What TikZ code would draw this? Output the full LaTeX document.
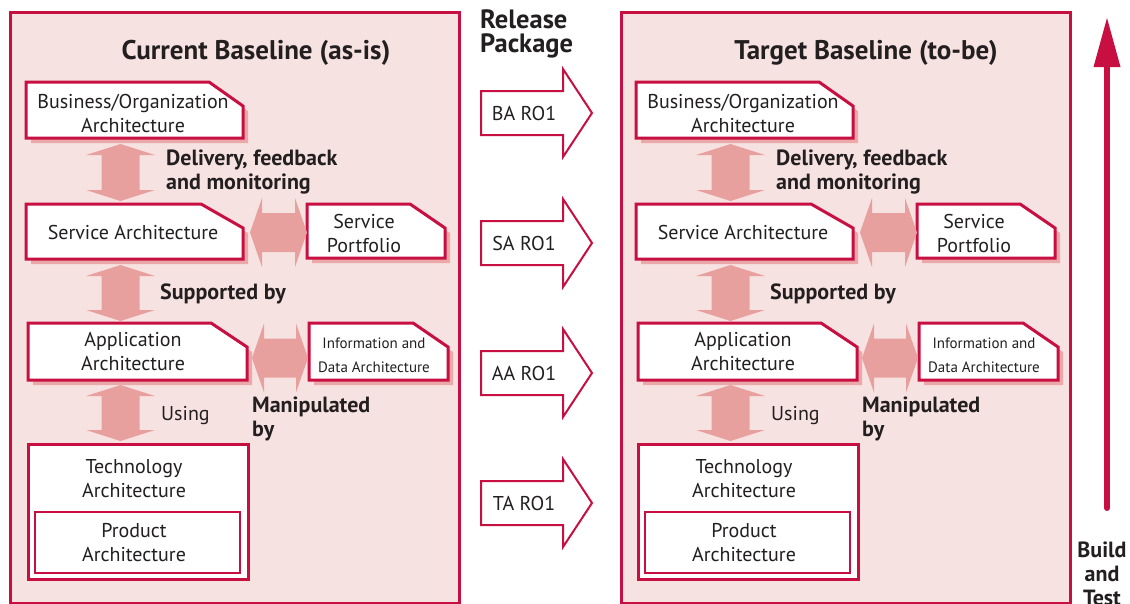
\documentclass[tikz,border=0pt]{standalone}
\usepackage{fontspec}
\setmainfont{PT Sans}
\usetikzlibrary{calc}
\definecolor{crim}{RGB}{200,15,65}
\definecolor{bgpink}{RGB}{247,226,226}
\definecolor{arrpink}{RGB}{232,160,159}
\definecolor{shad}{RGB}{235,168,168}
\definecolor{txt}{RGB}{35,31,32}

\newcommand\chout[2]{%
 \fill[shad] ([shift={(5pt-#2pt,-5pt)}]#1.north east) -- ([shift={(5pt,-29pt)}]#1.north east) -- ([shift={(5pt,-5pt)}]#1.south east) -- ([shift={(5pt,-5pt)}]#1.south west) -- ([shift={(5pt,-5pt)}]#1.north west) -- cycle;
 \draw[boxline] (#1.north west) -- ([xshift=-#2pt]#1.north east) -- ([yshift=-24pt]#1.north east) -- (#1.south east) -- (#1.south west) -- cycle;
}
\newcommand\vda[2]{%
 \fill[arrpink] let \p1=(#1), \p2=(#2) in (\x1,\y1) -- (\x1+34.5pt,\y1-11pt) -- (\x1+19pt,\y1-11pt) -- (\x1+19pt,\y2+11pt) -- (\x1+34.5pt,\y2+11pt) -- (\x1,\y2) -- (\x1-34.5pt,\y2+11pt) -- (\x1-19pt,\y2+11pt) -- (\x1-19pt,\y1-11pt) -- (\x1-34.5pt,\y1-11pt) -- cycle;
}
\newcommand\hda[2]{%
 \fill[arrpink] let \p1=(#1), \p2=(#2) in (\x1,\y1) -- (\x1+12pt,\y1+34.5pt) -- (\x1+12pt,\y1+19.5pt) -- (\x2-12pt,\y1+19.5pt) -- (\x2-12pt,\y1+34.5pt) -- (\x2,\y1) -- (\x2-12pt,\y1-34.5pt) -- (\x2-12pt,\y1-19.5pt) -- (\x1+12pt,\y1-19.5pt) -- (\x1+12pt,\y1-34.5pt) -- cycle;
}
\newcommand\relarrow[3]{%
 \draw[crim, line width=2pt, fill=white] (481,#2-22) -- (563,#2-22) -- (563,#2-44) -- (592,#2) -- (563,#2+44) -- (563,#2+22) -- (481,#2+22) -- cycle;
 \node[nt] (#1) at (524,#2) {#3};
}
\newcommand\panel[4]{% prefix, offset, title, panel offset
 \draw[draw=crim, line width=3pt, fill=bgpink] (#4+10,12) rectangle (#4+459,603);
 \node[tt] (#1title) at (#2+256,53) {#3};
 \node[geo, minimum width=217pt, minimum height=56pt] (#1ba) at (#2+134.5,110) {};
 \chout{#1ba}{34}
 \node[nt] (#1bat) at (#2+133,113) {Business/Organization\\Architecture};
 \node[geo, minimum width=217pt, minimum height=55pt] (#1sa) at (#2+134.5,231.5) {};
 \chout{#1sa}{42}
 \node[nt] (#1sat) at (#2+133,232) {Service Architecture};
 \node[geo, minimum width=138pt, minimum height=54pt] (#1sp) at (#2+376,231) {};
 \chout{#1sp}{35}
 \node[nt] (#1spt) at (#2+364,233) {Service\\Portfolio};
 \node[geo, minimum width=219pt, minimum height=57pt] (#1aa) at (#2+137.5,351.5) {};
 \chout{#1aa}{36}
 \node[nt] (#1aat) at (#2+133,352) {Application\\Architecture};
 \node[geo, minimum width=139pt, minimum height=57pt] (#1id) at (#2+378.5,351.5) {};
 \chout{#1id}{35}
 \node[st] (#1idt) at (#2+374,355) {Information and\\Data Architecture};
 \node[geo, minimum width=220pt, minimum height=135pt] (#1ta) at (#2+138,511.5) {};
 \draw[boxline] (#1ta.north west) rectangle (#1ta.south east);
 \node[nt] (#1tat) at (#2+134,479) {Technology\\Architecture};
 \node[geo, minimum width=205pt, minimum height=61pt] (#1pa) at (#2+137.5,542.5) {};
 \draw[draw=crim, line width=2.5pt] (#1pa.north west) rectangle (#1pa.south east);
 \node[nt] (#1pat) at (#2+134,543) {Product\\Architecture};
 \vda{[xshift=-14pt,yshift=-6pt]#1ba.south}{[yshift=3pt]#1sa.north}
 \vda{[xshift=-14pt,yshift=-6pt]#1sa.south}{[yshift=2pt]#1aa.north}
 \vda{[xshift=-17pt,yshift=-5pt]#1aa.south}{[yshift=3pt]#1ta.north}
 \hda{[xshift=7pt,yshift=-1pt]#1sa.east}{#1sp.west}
 \hda{[xshift=5pt,yshift=-6.5pt]#1aa.east}{[xshift=-1pt]#1id.west}
 \node[bt, anchor=west] (#1dfm) at (#2+166,172) {Delivery, feedback\\and monitoring};
 \node[bt, anchor=west] (#1sup) at (#2+160,294) {Supported by};
 \node[bt, anchor=west] (#1man) at (#2+252,419) {Manipulated\\by};
 \node[nt, anchor=west] (#1use) at (#2+161,416) {Using};
}

\begin{document}
\begin{tikzpicture}[x=1pt,y=-1pt,
 boxline/.style={draw=crim, line width=3pt, fill=white},
 geo/.style={inner sep=0pt, outer sep=0pt},
 nt/.style={font=\fontsize{20}{24}\selectfont, text=txt, align=center, inner sep=0pt},
 st/.style={font=\fontsize{15}{24}\selectfont, text=txt, align=center, inner sep=0pt},
 bt/.style={font=\bfseries\fontsize{22}{24}\selectfont, text=txt, align=left, inner sep=0pt},
 tt/.style={font=\bfseries\fontsize{27}{30}\selectfont, text=txt, inner sep=0pt}]
\useasboundingbox (0,0) rectangle (1130,603);
\fill[white] (0,0) rectangle (1130,603);
\panel{L}{0}{Current Baseline (as-is)}{0}
\panel{R}{610}{Target Baseline (to-be)}{611}
\node[font=\bfseries\fontsize{26.5}{24}\selectfont, text=txt, align=left, inner sep=0pt, anchor=west] (rp) at (480,34) {Release\\Package};
\relarrow{ba}{113}{BA RO1}
\relarrow{sa}{243}{SA RO1}
\relarrow{aa}{373}{AA RO1}
\relarrow{ta}{503}{TA RO1}
\coordinate (bbot) at (1107,508);
\coordinate (btop) at (1107,62);
\draw[crim, line width=6pt, line cap=round] (bbot) -- (btop);
\fill[crim] (1093.5,67) -- (1107,18) -- (1120.5,67) -- cycle;
\node[bt, align=center] (btt) at (1102,574) {Build\\and\\Test};
\end{tikzpicture}
\end{document}
